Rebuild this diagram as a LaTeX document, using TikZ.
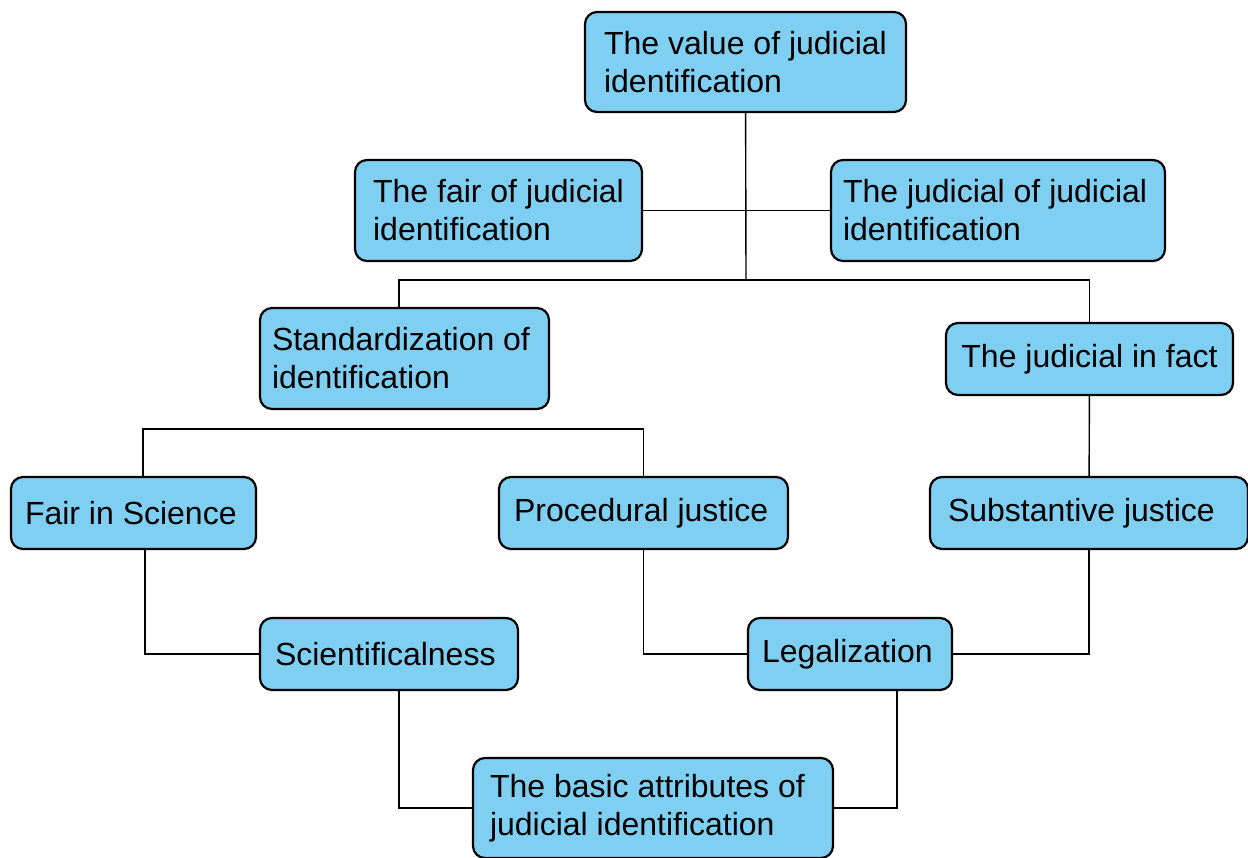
\documentclass[tikz,border=0pt]{standalone}
\usepackage{fontspec}
\setmainfont{Liberation Sans}
\definecolor{jblue}{HTML}{7FCFF3}

\tikzset{
  jbox/.style={draw=black, line width=2.2pt, rounded corners=12pt, fill=jblue,
    align=flush left, inner sep=0pt, font=\fontsize{32}{38}\selectfont},
  jline/.style={line width=1.4pt, black},
}

\begin{document}
\begin{tikzpicture}[x=1pt,y=-1pt]
\useasboundingbox (0,0) rectangle (1248,857);

% top levels
\node[jbox, minimum width=321pt, minimum height=100pt] (value) at (745.5,62) {The value of judicial\\identification};
\node[jbox, minimum width=287pt, minimum height=101pt] (fair) at (498.5,210.5) {The fair of judicial\\identification};
\node[jbox, minimum width=334pt, minimum height=101pt, text width=310pt] (judicial) at (998,210.5) {The judicial of judicial\\identification};
\node[jbox, minimum width=289pt, minimum height=101pt, text width=265pt] (standard) at (404.5,358.5) {Standardization of\\identification};
\node[jbox, minimum width=287pt, minimum height=72pt] (infact) at (1089.5,359) {The judicial in fact};

% middle
\node[jbox, minimum width=245pt, minimum height=72pt, text width=217pt] (science) at (133.5,513) {Fair in Science};
\node[jbox, minimum width=289pt, minimum height=72pt, text width=259pt] (procedural) at (643.5,513) {Procedural justice};
\node[jbox, minimum width=318pt, minimum height=72pt, text width=282pt] (substantive) at (1089,513) {Substantive justice};

% bottom
\node[jbox, minimum width=258pt, minimum height=72pt, text width=228pt] (scientific) at (389,654) {Scientificalness};
\node[jbox, minimum width=204pt, minimum height=72pt, text width=176pt] (legal) at (850,654) {Legalization};
\node[jbox, minimum width=360pt, minimum height=100pt, text width=326pt] (basic) at (653,808) {The basic attributes of\\judicial identification};

\coordinate (split) at (746,280);

\draw[jline] (value) -- (split);
\draw[jline] (fair.east) -- (judicial.west);
\draw[jline] (split) -| ([xshift=-5.5pt]standard.north);
\draw[jline] (split) -| (infact.north);
\draw[jline] (infact) -- (substantive);
\draw[jline] ([xshift=9.5pt]science.north) -- ++(0,-47) -| (procedural.north);
\draw[jline] ([xshift=11.5pt]science.south) |- (scientific.west);
\draw[jline] (procedural.south) |- (legal.west);
\draw[jline] (substantive.south) |- (legal.east);
\draw[jline] ([xshift=10pt]scientific.south) |- (basic.west);
\draw[jline] ([xshift=47pt]legal.south) |- (basic.east);
\end{tikzpicture}
\end{document}
